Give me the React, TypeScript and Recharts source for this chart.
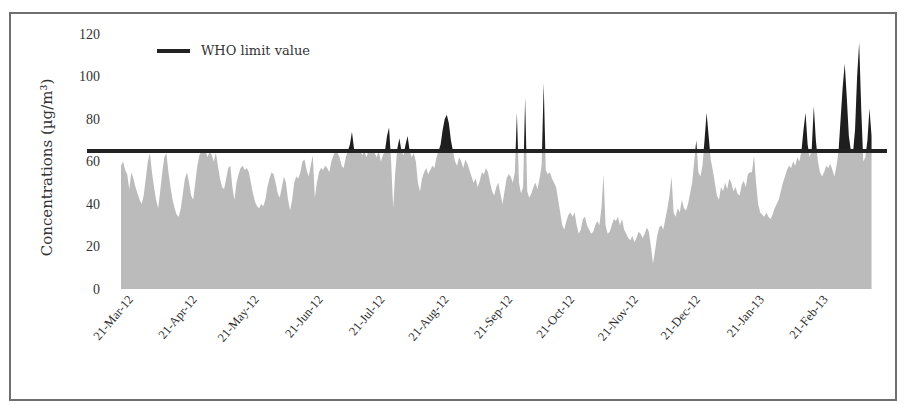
import { Area, AreaChart, ReferenceLine, XAxis, YAxis } from "recharts";

const LIMIT = 65;
const FONT = "'DejaVu Serif', serif";
const TIMES = "'Liberation Serif', serif";

// x axis: day index from 21-Mar-12
const tickDays = [0, 31, 61, 92, 122, 153, 184, 214, 245, 275, 306, 337];
const tickLabels = [
  "21-Mar-12",
  "21-Apr-12",
  "21-May-12",
  "21-Jun-12",
  "21-Jul-12",
  "21-Aug-12",
  "21-Sep-12",
  "21-Oct-12",
  "21-Nov-12",
  "21-Dec-12",
  "21-Jan-13",
  "21-Feb-13",
];
const yTicks = [0, 20, 40, 60, 80, 100, 120];

// daily concentrations (µg/m³), one array per month (21st to 20th)
const mar12 = [58, 60, 56, 54, 47, 55, 52, 48, 45, 42, 40, 44, 52, 60, 64, 55, 48, 42, 38, 46, 55, 62, 64, 55, 48, 42, 38, 35, 34, 38, 45];
const apr12 = [52, 55, 50, 44, 42, 50, 58, 63, 65, 64, 65, 62, 65, 63, 60, 64, 58, 52, 48, 47, 52, 57, 58, 48, 42, 50, 54, 57, 58, 56];
const may12 = [57, 55, 50, 45, 41, 39, 38, 40, 39, 42, 48, 52, 55, 54, 50, 45, 43, 48, 53, 50, 42, 37, 42, 50, 53, 52, 55, 60, 61, 56, 53];
const jun12 = [58, 63, 43, 50, 55, 57, 56, 58, 57, 55, 60, 63, 65, 64, 62, 58, 57, 62, 65, 68, 74, 66, 65, 64, 65, 63, 65, 62, 65, 64];
const jul12 = [66, 64, 62, 65, 60, 63, 65, 72, 76, 60, 38, 55, 66, 71, 65, 63, 68, 72, 65, 62, 64, 60, 50, 46, 52, 55, 57, 54, 56, 58, 57];
const aug12 = [62, 65, 68, 75, 80, 82, 78, 70, 65, 60, 58, 62, 60, 57, 61, 59, 56, 53, 50, 52, 48, 51, 55, 54, 57, 55, 50, 46, 44, 48, 50];
const sep12 = [45, 40, 46, 52, 54, 53, 50, 55, 83, 50, 45, 48, 90, 46, 43, 45, 48, 50, 47, 52, 58, 97, 56, 54, 55, 52, 50, 48, 42, 36];
const oct12 = [30, 28, 32, 35, 36, 34, 36, 30, 26, 28, 33, 34, 30, 28, 26, 27, 30, 32, 30, 38, 54, 30, 26, 27, 30, 33, 32, 34, 30, 33, 28];
const nov12 = [26, 24, 23, 25, 22, 24, 27, 26, 24, 26, 29, 27, 20, 12, 18, 25, 29, 30, 28, 33, 38, 44, 53, 36, 34, 38, 36, 42, 38, 37];
const dec12 = [40, 45, 50, 60, 70, 55, 53, 58, 70, 83, 72, 61, 56, 50, 44, 42, 48, 46, 50, 47, 52, 50, 46, 48, 45, 44, 49, 51, 48, 54, 55];
const jan13 = [55, 63, 50, 40, 36, 35, 34, 36, 34, 33, 35, 38, 40, 42, 46, 50, 53, 56, 58, 57, 60, 58, 62, 60, 65, 75, 83, 68, 62, 66, 86];
const feb13 = [70, 60, 55, 53, 55, 58, 57, 59, 56, 53, 58, 65, 80, 95, 106, 90, 72, 65, 64, 75, 100, 116, 85, 60, 62, 70, 85, 72];

const daily = [...mar12, ...apr12, ...may12, ...jun12, ...jul12, ...aug12, ...sep12, ...oct12, ...nov12, ...dec12, ...jan13, ...feb13];
const data = daily.map((v, i) => ({ day: i, conc: v }));

// gradient split so the part above the limit is black
const maxVal = Math.max(...daily);
const split = (maxVal - LIMIT) / maxVal;

function YTick({ x, y, payload }: any) {
  return (
    <text x={x + 13} y={y} dy={4.5} textAnchor="end" fontSize={14} fontFamily={TIMES} fill="#333">
      {payload.value}
    </text>
  );
}

function XTick({ x, y, payload }: any) {
  const label = tickLabels[tickDays.indexOf(payload.value)];
  return (
    <g transform={`translate(${x + 6},${y})`}>
      <text textAnchor="end" dy="0.7em" transform="rotate(-50)" fontSize={12.5} fontFamily={TIMES} fill="#2c2c2c">
        {label}
      </text>
    </g>
  );
}

export default function App() {
  return (
    <div style={{ position: "relative", width: 891, height: 397 }}>
      <div
        style={{
          position: "absolute",
          left: 1,
          top: 4,
          width: 884,
          height: 385,
          border: "2px solid #6f6f6f",
        }}
      />
      <div
        style={{
          position: "absolute",
          left: 149,
          top: 35,
          display: "flex",
          alignItems: "center",
          fontFamily: FONT,
          fontSize: 13,
          color: "#333",
        }}
      >
        <span style={{ display: "inline-block", width: 33, height: 4, background: "#222" }} />
        <span style={{ marginLeft: 11 }}>WHO limit value</span>
      </div>
      <AreaChart width={891} height={397} data={data} margin={{ top: 26, right: 12, bottom: 56, left: 19 }}>
        <defs>
          <linearGradient id="splitFill" x1="0" y1="0" x2="0" y2="1">
            <stop offset={0} stopColor="#1e1e1e" />
            <stop offset={split} stopColor="#1e1e1e" />
            <stop offset={split} stopColor="#bbbbbb" />
            <stop offset={1} stopColor="#bbbbbb" />
          </linearGradient>
        </defs>
        <XAxis
          dataKey="day"
          type="number"
          domain={[-16.5, 371.5]}
          ticks={tickDays}
          interval={0}
          axisLine={false}
          tickLine={false}
          tickSize={0}
          tickMargin={5}
          height={60}
          tick={<XTick />}
          allowDataOverflow
        />
        <YAxis
          domain={[0, 120]}
          ticks={yTicks}
          width={60}
          axisLine={false}
          tickLine={false}
          tickSize={0}
          tickMargin={0}
          tick={<YTick />}
          label={{
            value: "Concentrations (µg/m³)",
            angle: -90,
            position: "insideLeft",
            offset: 20,
            dy: 6,
            style: { textAnchor: "middle", fontFamily: FONT, fontSize: 15, fill: "#333" },
          }}
        />
        <Area
          type="linear"
          dataKey="conc"
          stroke="none"
          fill="url(#splitFill)"
          fillOpacity={1}
          dot={false}
          activeDot={false}
          isAnimationActive={false}
        />
        <ReferenceLine y={LIMIT} stroke="#222" strokeWidth={4} />
      </AreaChart>
    </div>
  );
}
